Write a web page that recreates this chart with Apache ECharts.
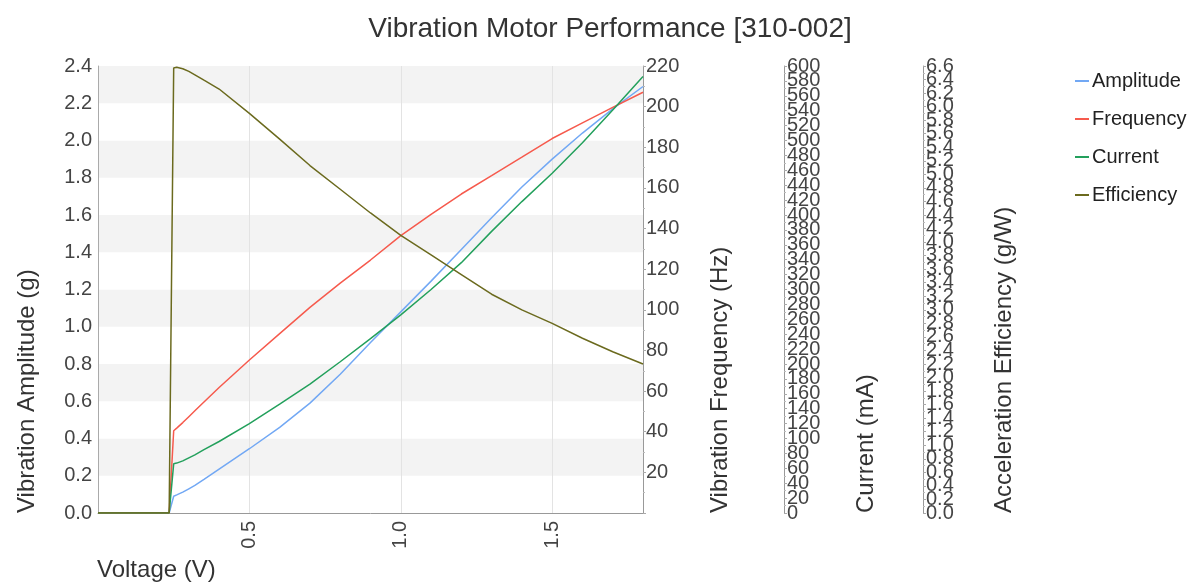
<!DOCTYPE html>
<html>
<head>
<meta charset="utf-8">
<script src="https://cdn.jsdelivr.net/npm/echarts@6/dist/echarts.min.js"></script>
<style>
html,body{margin:0;padding:0;background:#fff;}
#chart{width:1197px;height:585px;}
</style>
</head>
<body>
<div id="chart"></div>
<script>
var titleText = 'Vibration Motor Performance [310-002]';
var seriesNames = ['Amplitude', 'Frequency', 'Current', 'Efficiency'];
var voltage =    [0, 0.235, 0.25, 0.26, 0.28, 0.3, 0.32, 0.35, 0.4, 0.5, 0.6, 0.7, 0.8, 0.9, 1.0, 1.1, 1.2, 1.3, 1.4, 1.5, 1.6, 1.7, 1.8];
var amplitude =  [0, 0, 0.09, 0.097, 0.112, 0.13, 0.148, 0.18, 0.235, 0.345, 0.46, 0.59, 0.745, 0.915, 1.08, 1.245, 1.415, 1.585, 1.75, 1.9, 2.04, 2.17, 2.29];
var frequency =  [0, 0, 40.5, 41.8, 44.5, 47.4, 50.3, 54.6, 61.8, 75.3, 88.3, 101.2, 113.1, 124.5, 136.5, 147.0, 157.0, 166.0, 175.1, 184.3, 192.0, 199.6, 207.1];
var current =    [0, 0, 66, 67, 70, 74, 78, 85, 96, 120, 146, 173, 203, 234, 266, 300, 336, 378, 418, 456, 497, 541, 586];
var efficiency = [0, 0, 6.57, 6.58, 6.56, 6.52, 6.47, 6.39, 6.26, 5.90, 5.52, 5.13, 4.78, 4.43, 4.10, 3.81, 3.52, 3.23, 3.00, 2.80, 2.58, 2.38, 2.20];
var axisNames = ['Voltage (V)', 'Vibration Amplitude (g)', 'Vibration Frequency (Hz)', 'Current (mA)', 'Acceleration Efficiency (g/W)'];
var colors = ['#72a8f4', '#f65a4d', '#23a05c', '#6b6a1e'];

function zip(xs, ys) { return xs.map(function (x, i) { return [x, ys[i]]; }); }

var FONT = 'Liberation Sans, Arial, sans-serif';
var labelStyle = { color: '#444', fontSize: 20, fontFamily: FONT };
var chart = echarts.init(document.getElementById('chart'), null, { renderer: 'canvas' });

function rightAxis(min, max, interval, offset, fmt, showEnds) {
  return {
    type: 'value', position: 'right', offset: offset, min: min, max: max, interval: interval,
    axisLine: { show: true, lineStyle: { color: '#999', width: 1 } },
    axisTick: { show: true, length: 3, lineStyle: { color: '#aaa' } },
    minorTick: { show: true, splitNumber: 2, length: 2, lineStyle: { color: '#bbb' } },
    splitLine: { show: false },
    axisLabel: Object.assign({ margin: 3, formatter: fmt, showMinLabel: showEnds, showMaxLabel: showEnds, hideOverlap: false }, labelStyle)
  };
}
// companion axis that only prints the two end labels (so they do not hide their neighbours)
function endLabelAxis(min, max, interval, offset, fmt) {
  return {
    type: 'value', position: 'right', offset: offset, min: min, max: max, interval: interval,
    axisLine: { show: false }, axisTick: { show: false }, splitLine: { show: false },
    axisLabel: Object.assign({
      margin: 3, showMinLabel: true, showMaxLabel: true, hideOverlap: false,
      formatter: function (v) { return (v === min || v === max) ? fmt(v) : ''; }
    }, labelStyle)
  };
}

var fmtInt = function (v) { return String(v); };
var fmtOne = function (v) { return v.toFixed(1); };

var option = {
  backgroundColor: '#fff',
  animation: false,
  color: colors,
  title: {
    text: titleText, left: 605, top: 10, textAlign: 'center',
    textStyle: { color: '#333', fontSize: 28, fontWeight: 'normal', fontFamily: FONT }
  },
  legend: {
    orient: 'vertical', left: 1070, top: 66, itemGap: 18,
    icon: 'rect', itemWidth: 14, itemHeight: 2,
    textStyle: { color: '#222', fontSize: 20, fontFamily: FONT, lineHeight: 20, padding: [0, 0, 0, -2] },
    data: seriesNames
  },
  grid: { left: 98, right: 554, top: 66, bottom: 72, containLabel: false },
  xAxis: {
    type: 'value', min: 0, max: 1.8, interval: 0.5,
    axisLine: { show: true, lineStyle: { color: '#999' } },
    axisTick: { show: false },
    splitLine: { show: true, lineStyle: { color: '#e3e3e3' } },
    axisLabel: Object.assign({
      rotate: 90, margin: 8,
      formatter: function (v) { return (v === 0 || v >= 1.8) ? '' : v.toFixed(1); }
    }, labelStyle)
  },
  yAxis: [
    {
      type: 'value', position: 'left', min: 0, max: 2.4, interval: 0.2,
      axisLine: { show: true, lineStyle: { color: '#aaa' } },
      axisTick: { show: false },
      splitLine: { show: false },
      splitArea: { show: true, areaStyle: { color: ['#ffffff', '#f3f3f3'] } },
      axisLabel: Object.assign({ margin: 6, showMinLabel: true, showMaxLabel: true, formatter: fmtOne }, labelStyle)
    },
    rightAxis(0, 220, 20, 0, function (v) { return v === 0 ? '' : String(v); }, true),
    rightAxis(0, 600, 20, 141, fmtInt, false),
    rightAxis(0, 6.6, 0.2, 280, fmtOne, false),
    endLabelAxis(0, 600, 20, 141, fmtInt),
    endLabelAxis(0, 6.6, 0.2, 280, fmtOne)
  ],
  series: [
    { name: seriesNames[0], type: 'line', yAxisIndex: 0, showSymbol: false, data: zip(voltage, amplitude), lineStyle: { width: 1.5 } },
    { name: seriesNames[1], type: 'line', yAxisIndex: 1, showSymbol: false, data: zip(voltage, frequency), lineStyle: { width: 1.5 } },
    { name: seriesNames[2], type: 'line', yAxisIndex: 2, showSymbol: false, data: zip(voltage, current), lineStyle: { width: 1.5 } },
    { name: seriesNames[3], type: 'line', yAxisIndex: 3, showSymbol: false, data: zip(voltage, efficiency), lineStyle: { width: 1.5 } }
  ],
  graphic: [
    { type: 'text', left: 97, top: 558, style: { text: axisNames[0], fill: '#333', fontSize: 24, fontFamily: FONT } },
    { type: 'text', x: 27, y: 513, rotation: Math.PI / 2, style: { text: axisNames[1], fill: '#333', fontSize: 24, fontFamily: FONT, textAlign: 'left', textVerticalAlign: 'middle' } },
    { type: 'text', x: 720, y: 513, rotation: Math.PI / 2, style: { text: axisNames[2], fill: '#333', fontSize: 24, fontFamily: FONT, textAlign: 'left', textVerticalAlign: 'middle' } },
    { type: 'text', x: 866, y: 513, rotation: Math.PI / 2, style: { text: axisNames[3], fill: '#333', fontSize: 24, fontFamily: FONT, textAlign: 'left', textVerticalAlign: 'middle' } },
    { type: 'text', x: 1004, y: 513, rotation: Math.PI / 2, style: { text: axisNames[4], fill: '#333', fontSize: 24, fontFamily: FONT, textAlign: 'left', textVerticalAlign: 'middle' } }
  ]
};
chart.setOption(option);
</script>
</body>
</html>
